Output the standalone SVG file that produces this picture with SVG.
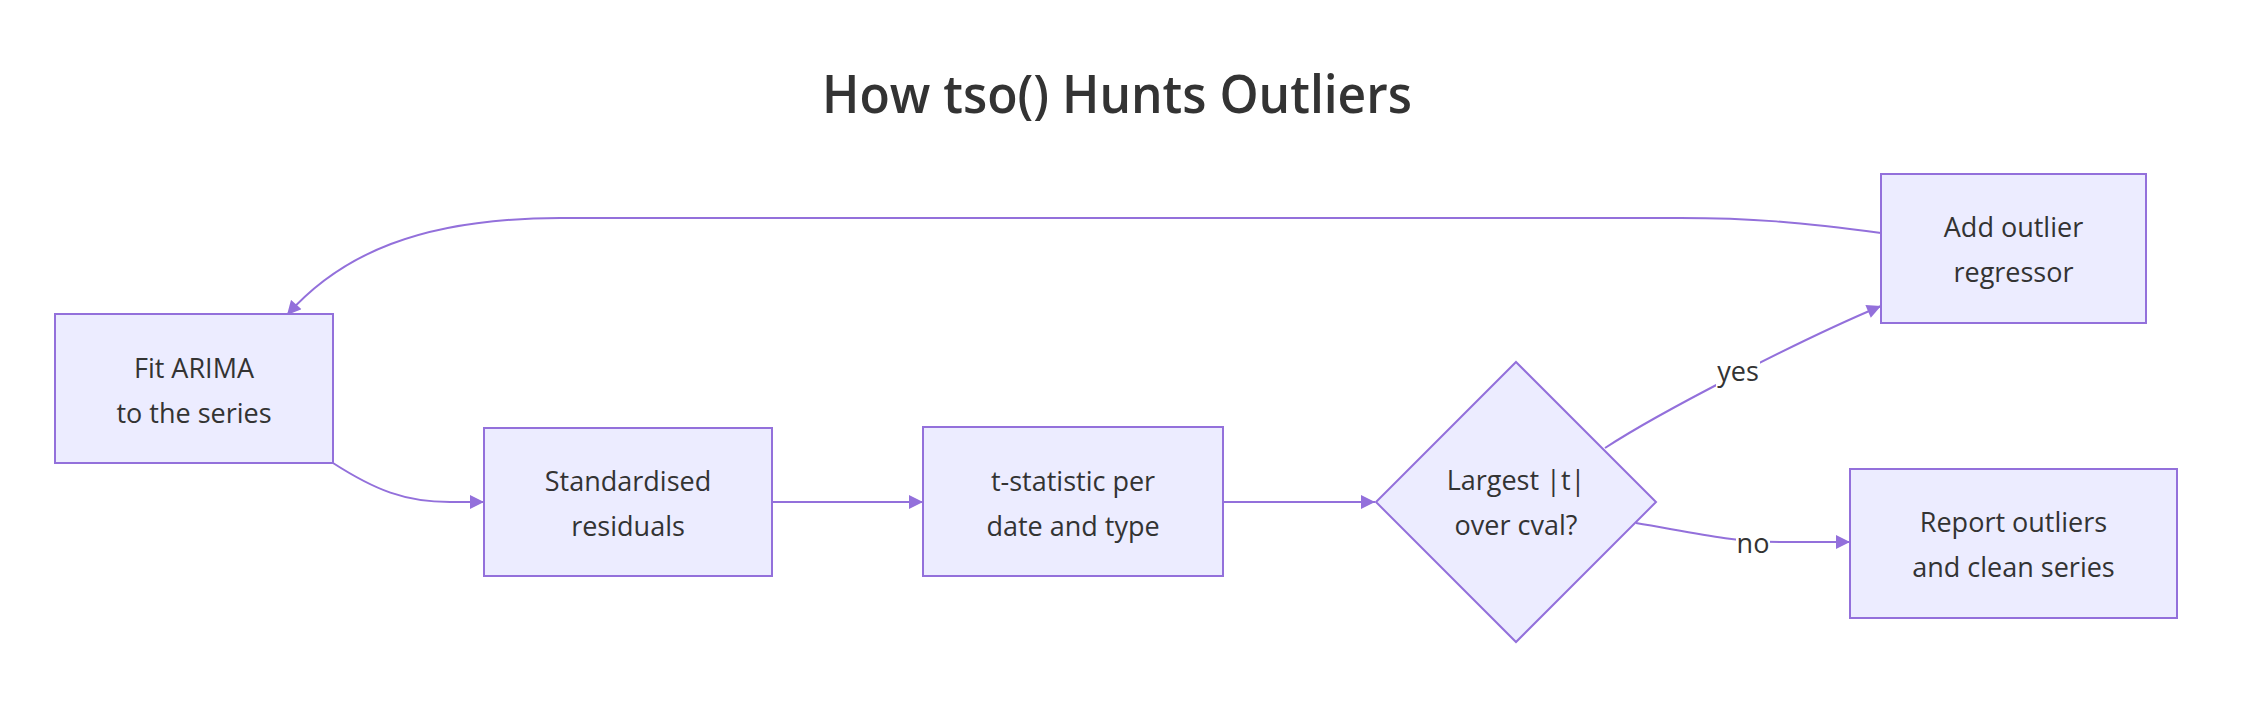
<svg xmlns="http://www.w3.org/2000/svg" width="2248" height="702" viewBox="0 0 2248 702">
<style>
.node rect,.node polygon{fill:#ECECFF;stroke:#9370DB;stroke-width:2}
.lbl{font-family:"Open Sans","Noto Sans",sans-serif;font-size:27px;fill:#333333;text-anchor:middle}
.title{font-family:"Open Sans","Noto Sans",sans-serif;font-size:52px;font-weight:600;fill:#333333;text-anchor:middle}
.edge{fill:none;stroke:#9370DB;stroke-width:2}
.elbg{fill:#ffffff}
</style>
<defs>
<marker id="arrow" viewBox="0 0 10 10" refX="10" refY="5" markerUnits="userSpaceOnUse" markerWidth="15" markerHeight="14" orient="auto">
<path d="M0,0 L10,5 L0,10 z" fill="#9370DB"/>
</marker>
</defs>
<rect width="2248" height="702" fill="#ffffff"/>
<text class="title" x="1117" y="113" textLength="590" lengthAdjust="spacingAndGlyphs">How tso() Hunts Outliers</text>
<g id="edges">
<path class="edge" d="M1881,233 C1800,222 1750,218 1680,218 L560,218 C420,218 340,255 287,315" marker-end="url(#arrow)"/>
<path class="edge" d="M333,463 C375,490 405,502 450,502 L484,502" marker-end="url(#arrow)"/>
<path class="edge" d="M772,502 L923,502" marker-end="url(#arrow)"/>
<path class="edge" d="M1223,502 L1375,502" marker-end="url(#arrow)"/>
<path class="edge" d="M1605,448 C1660,412 1800,340 1881,306" marker-end="url(#arrow)"/>
<path class="edge" d="M1636,523 C1690,532 1730,542 1780,542 L1850,542" marker-end="url(#arrow)"/>
<g id="label-yes">
<rect class="elbg" x="1716" y="348" width="44" height="42"/>
<text class="lbl" x="1738" y="381">yes</text>
</g>
<g id="label-no">
<rect class="elbg" x="1736" y="520" width="34" height="42"/>
<text class="lbl" x="1753" y="553">no</text>
</g>
</g>
<g id="node-fit" class="node">
<rect x="55" y="314" width="278" height="149"/>
<text class="lbl" x="194" y="378">Fit ARIMA</text>
<text class="lbl" x="194" y="423">to the series</text>
</g>
<g id="node-std" class="node">
<rect x="484" y="428" width="288" height="148"/>
<text class="lbl" x="628" y="491">Standardised</text>
<text class="lbl" x="628" y="536">residuals</text>
</g>
<g id="node-tstat" class="node">
<rect x="923" y="427" width="300" height="149"/>
<text class="lbl" x="1073" y="491">t-statistic per</text>
<text class="lbl" x="1073" y="536">date and type</text>
</g>
<g id="node-decision" class="node">
<polygon points="1516,362 1656,502 1516,642 1376,502"/>
<text class="lbl" x="1516" y="490">Largest |t|</text>
<text class="lbl" x="1516" y="535">over cval?</text>
</g>
<g id="node-add" class="node">
<rect x="1881" y="174" width="265" height="149"/>
<text class="lbl" x="2013.5" y="237">Add outlier</text>
<text class="lbl" x="2013.5" y="282">regressor</text>
</g>
<g id="node-report" class="node">
<rect x="1850" y="469" width="327" height="149"/>
<text class="lbl" x="2013.5" y="532">Report outliers</text>
<text class="lbl" x="2013.5" y="577">and clean series</text>
</g>
</svg>
